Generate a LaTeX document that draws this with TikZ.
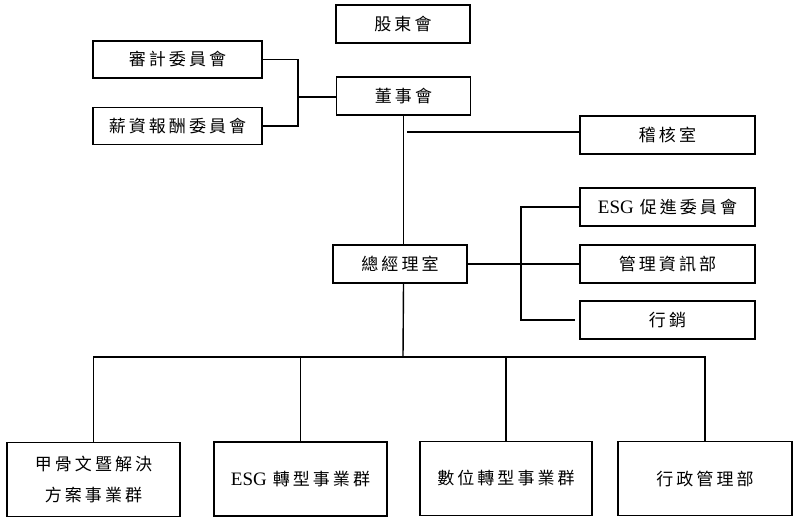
\documentclass[tikz,border=0pt]{standalone}
\usepackage{fontspec}
\newfontfamily\cjk[LetterSpace=18]{Noto Sans CJK TC}
\newfontfamily\lat{Liberation Serif}
\begin{document}
\begin{tikzpicture}[x=1pt,y=-1pt,
  box/.style={draw,line width=1.4pt,rectangle,inner sep=0pt,font=\fontsize{17}{31}\selectfont\cjk,align=center},
  conn/.style={line width=1.4pt}]
\useasboundingbox (0,0) rectangle (798,521);
\newcommand{\esgtxt}{{\lat\fontsize{19}{20}\selectfont ESG}\hspace{6pt}}
% top
\node[box,minimum width=134pt,minimum height=38pt] (sh) at (403,24) {股東會};
\node[box,minimum width=169pt,minimum height=37pt] (audit) at (177.5,59.5) {審計委員會};
\node[box,minimum width=134pt,minimum height=38pt] (board) at (403.5,96) {董事會};
\node[box,minimum width=169pt,minimum height=37pt] (pay) at (177.5,126) {薪資報酬委員會};
\node[box,minimum width=175pt,minimum height=38pt] (ia) at (667.5,135) {稽核室};
\node[box,minimum width=175pt,minimum height=38pt] (esg) at (667.5,207) {\esgtxt 促進委員會};
\node[box,minimum width=134pt,minimum height=38pt] (gm) at (400,264) {總經理室};
\node[box,minimum width=175pt,minimum height=38pt] (mis) at (667.5,264) {管理資訊部};
\node[box,minimum width=175pt,minimum height=38pt] (mkt) at (667.5,320) {行銷};
% bottom
\node[box,minimum width=173pt,minimum height=74pt] (b1) at (93.5,479.5) {甲骨文暨解決\\方案事業群};
\node[box,minimum width=173pt,minimum height=74pt] (b2) at (300.5,479) {\esgtxt 轉型事業群};
\node[box,minimum width=172pt,minimum height=74pt] (b3) at (506,478.5) {數位轉型事業群};
\node[box,minimum width=174pt,minimum height=74pt] (b4) at (705,478.5) {行政管理部};
% coordinates
\coordinate (jb) at (298,97);
\coordinate (ab) at (407,132);
\coordinate (jg) at (521,264);
\coordinate (mk) at (575,320);
\coordinate (bus) at (403,357);
% connectors
\draw[conn] (audit.east) -| (jb) |- (pay.east);
\draw[conn] (jb) -- (jb -| board.west);
\draw[conn] (board.south) -- (board.south |- gm.north);
\draw[conn] (ab) -- (ab -| ia.west);
\draw[conn] (gm.east) -- (mis.west);
\draw[conn] (esg.west) -| (jg) |- (mk);
\draw[conn] (board.south |- gm.south) -- (bus);
\draw[conn] (b1.north) |- (b4.north |- bus) -- (b4.north);
\draw[conn] (b2.north) -- (b2.north |- bus);
\draw[conn] (b3.north) -- (b3.north |- bus);
\end{tikzpicture}
\end{document}
